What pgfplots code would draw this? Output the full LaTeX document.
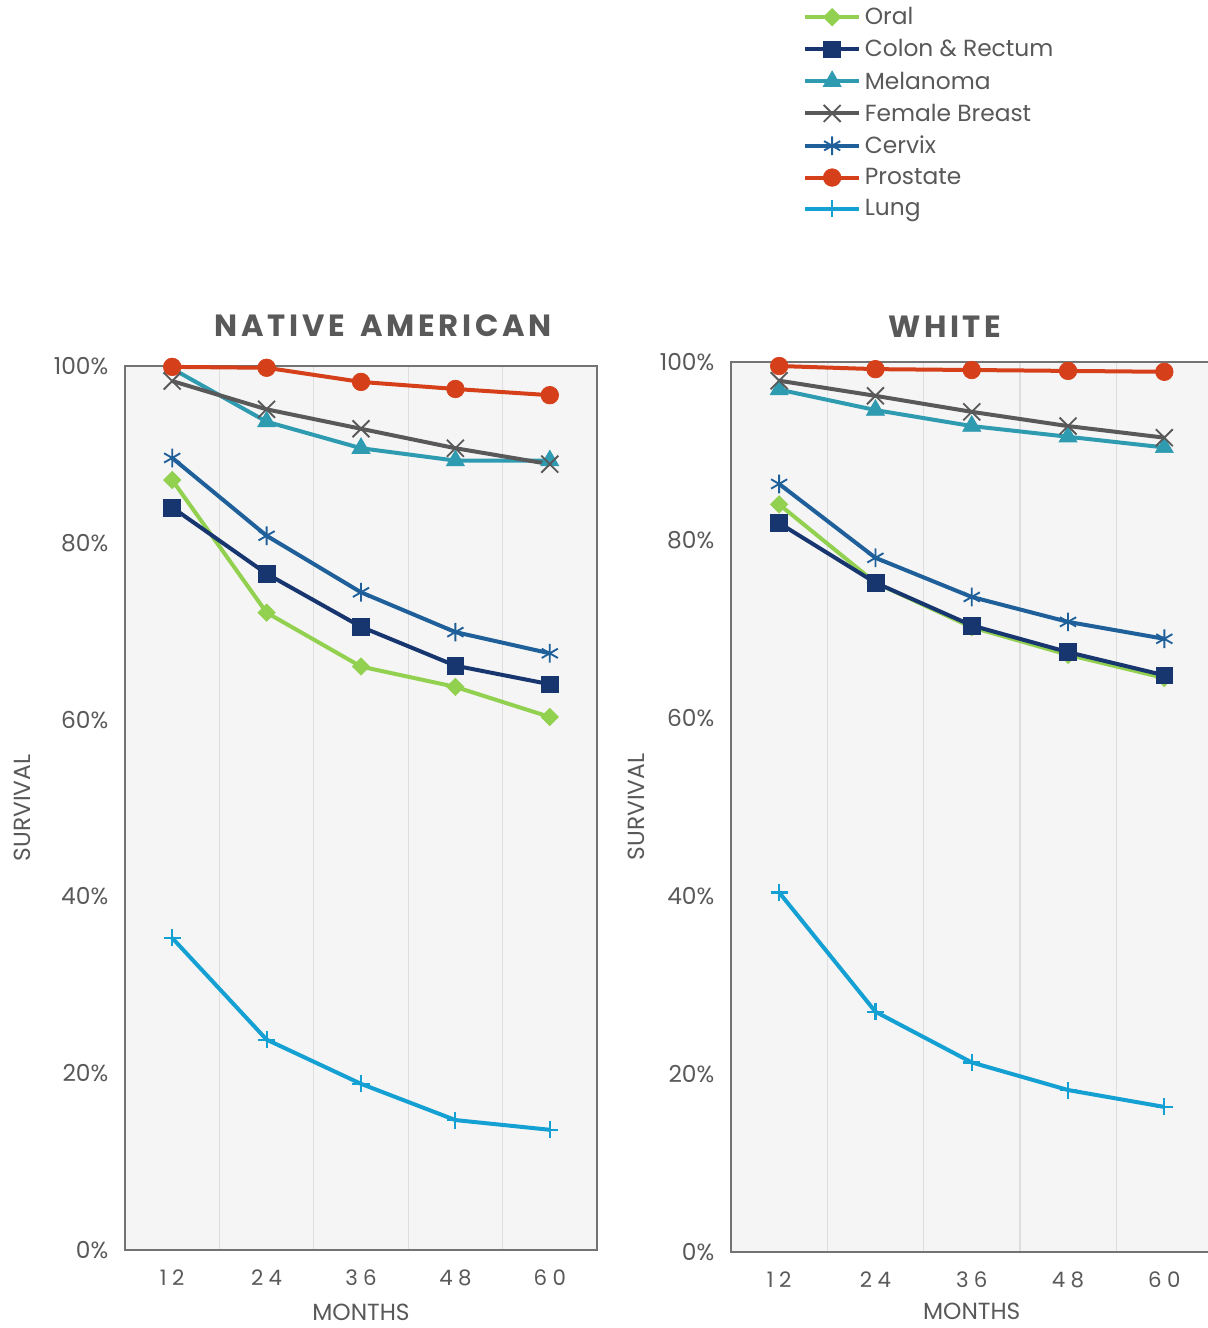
\documentclass[border=0pt]{standalone}
\usepackage{pgfplots}
\pgfplotsset{compat=1.18}
\usepackage{fontspec}
\setmainfont{Poppins}
\newfontfamily\spaced[LetterSpace=25]{Poppins}
\newfontfamily\titlefont[LetterSpace=12]{Poppins}

\definecolor{oral}{HTML}{92D050}
\definecolor{colon}{HTML}{173670}
\definecolor{melan}{HTML}{2F9BB1}
\definecolor{breast}{HTML}{595959}
\definecolor{cervix}{HTML}{1F5F9A}
\definecolor{prost}{HTML}{D5401A}
\definecolor{lung}{HTML}{14A0D2}
\definecolor{txt}{HTML}{595959}

\pgfplotsset{
  surv/.style={
    scale only axis,
    anchor=south west,
    xmin=-0.5, xmax=4.5, ymin=0, ymax=100,
    xtick={0,...,4}, xticklabels={12,24,36,48,60},
    ytick={0,20,...,100}, yticklabels={0\%,20\%,40\%,60\%,80\%,100\%},
    minor xtick={0.5,1.5,2.5,3.5},
    xminorgrids, minor grid style={draw=black!13, line width=1pt},
    major tick length=0pt, minor tick length=0pt,
    axis background/.style={fill=black!4},
    axis line style={draw=black!55, line width=1.3pt},
    tick label style={text=txt, font=\fontsize{17.5}{19}\selectfont},
    xticklabel style={font=\spaced\fontsize{16}{18}\selectfont},
    yticklabel shift=9pt, xticklabel shift=11.5pt,
    label style={text=txt, font=\fontsize{17.5}{19}\selectfont},
    title style={text=txt, font=\titlefont\bfseries\fontsize{23}{26}\selectfont, anchor=center},
    clip=false,
  },
  s-oral/.style={color=oral, line width=3pt, mark=square*, mark size=4.6pt, mark options={solid, rotate=45, line width=0.5pt, fill=oral}},
  s-colon/.style={color=colon, line width=3pt, mark=square*, mark size=6.3pt, mark options={solid, line width=0.5pt, fill=colon}},
  s-melan/.style={color=melan, line width=3pt, mark=triangle*, mark size=7.8pt, mark options={solid, line width=0.5pt, fill=melan}},
  s-breast/.style={color=breast, line width=3pt, mark=x, mark size=9pt, mark options={solid, line width=1.4pt}},
  s-cervix/.style={color=cervix, line width=3pt, mark=asterisk, mark size=7pt, mark options={solid, line width=1.4pt}},
  s-prost/.style={color=prost, line width=3pt, mark=*, mark size=6.6pt, mark options={solid, line width=0.5pt, fill=prost}},
  s-lung/.style={color=lung, line width=3pt, mark=+, mark size=6.4pt, mark options={solid, line width=1.6pt}},
}

\begin{document}
\begin{tikzpicture}
\useasboundingbox (0pt,0pt) rectangle (905.25pt,-996pt);

% Native American
\begin{axis}[surv,
  at={(93.75pt,-937.5pt)}, width=354pt, height=663pt,
  title={NATIVE\hspace{4pt} AMERICAN},
  title style={at={(axis description cs:0.547,1.037)}},
  xlabel={MONTHS}, xlabel style={at={(axis description cs:0.5,-0.0700)}, anchor=center},
  ylabel={SURVIVAL}, ylabel style={at={(axis description cs:-0.218,0.5)}, anchor=center},
]
\addplot[s-lung] coordinates {(0,35.3) (1,23.8) (2,18.8) (3,14.7) (4,13.6)};
\addplot[s-oral] coordinates {(0,87.1) (1,72.1) (2,66.0) (3,63.7) (4,60.3)};
\addplot[s-colon] coordinates {(0,84.0) (1,76.5) (2,70.5) (3,66.1) (4,64.0)};
\addplot[s-cervix] coordinates {(0,89.6) (1,80.8) (2,74.4) (3,69.9) (4,67.5)};
\addplot[s-melan] coordinates {(0,99.7) (1,93.7) (2,90.7) (3,89.3) (4,89.3)};
\addplot[s-breast] coordinates {(0,98.3) (1,95.1) (2,92.9) (3,90.7) (4,88.9)};
\addplot[s-prost] coordinates {(0,99.9) (1,99.8) (2,98.2) (3,97.4) (4,96.7)};
\end{axis}

% White
\begin{axis}[surv,
  at={(548.25pt,-939pt)}, width=361.1pt, height=667.5pt,
  title={WHITE},
  title style={at={(axis description cs:0.444,1.031)}},
  xlabel={MONTHS}, xlabel style={at={(axis description cs:0.5,-0.0665)}, anchor=center},
  ylabel={SURVIVAL}, ylabel style={at={(axis description cs:-0.197,0.5)}, anchor=center},
  legend style={at={(axis description cs:0.15,1.4015)}, anchor=north west,
    draw=none, fill=none, font=\fontsize{17.5}{19}\selectfont, text=txt,
    row sep=5.6pt, inner sep=0pt, column sep=1pt},
  legend cell align=left,
  legend image code/.code={\draw[mark repeat=2, mark phase=2] plot coordinates {(0pt,0pt) (20pt,0pt) (40pt,0pt)};},
]
\addplot[s-oral] coordinates {(0,84.0) (1,75.2) (2,70.2) (3,67.1) (4,64.5)};
\addlegendentry{Oral}
\addplot[s-colon] coordinates {(0,81.9) (1,75.2) (2,70.4) (3,67.4) (4,64.8)};
\addlegendentry{Colon \& Rectum}
\addplot[s-melan] coordinates {(0,96.9) (1,94.6) (2,92.8) (3,91.6) (4,90.4)};
\addlegendentry{Melanoma}
\addplot[s-breast] coordinates {(0,97.9) (1,96.2) (2,94.4) (3,92.8) (4,91.5)};
\addlegendentry{Female Breast}
\addplot[s-cervix] coordinates {(0,86.3) (1,78.0) (2,73.6) (3,70.8) (4,68.9)};
\addlegendentry{Cervix}
\addplot[s-prost] coordinates {(0,99.55) (1,99.2) (2,99.1) (3,99.0) (4,98.9)};
\addlegendentry{Prostate}
\addplot[s-lung] coordinates {(0,40.4) (1,27.0) (2,21.3) (3,18.2) (4,16.3)};
\addlegendentry{Lung}
\end{axis}
\end{tikzpicture}
\end{document}
